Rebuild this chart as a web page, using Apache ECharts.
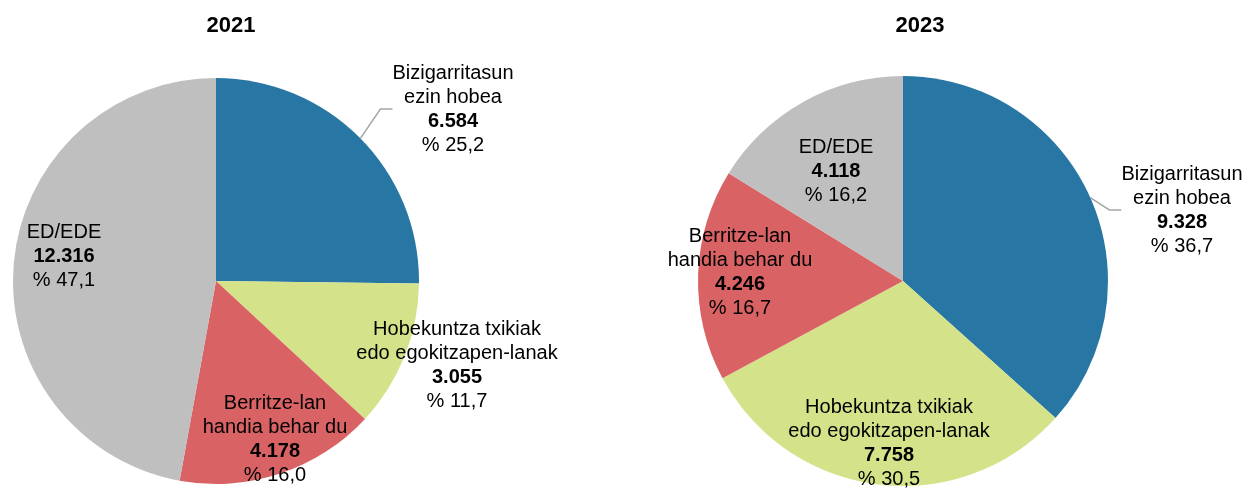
<!DOCTYPE html>
<html lang="eu">
<head>
<meta charset="UTF-8">
<title>Etxebizitzen egoera 2021 / 2023</title>
<script src="https://cdn.jsdelivr.net/npm/echarts@6/dist/echarts.min.js"></script>
<style>
  html, body { margin: 0; padding: 0; background: #fff; }
  #main { width: 1257px; height: 489px; }
</style>
</head>
<body>
<div id="main"></div>
<script type="text/javascript">
    // kategoriak (erlojuaren noranzkoan, goitik hasita)
    const categories = ['Bizigarritasun\nezin hobea', 'Hobekuntza txikiak\nedo egokitzapen-lanak', 'Berritze-lan\nhandia behar du', 'ED/EDE']
    const years = ['2021', '2023']
    const values2021 = [6584, 3055, 4178, 12316]
    const values2023 = [9328, 7758, 4246, 4118]
    const colors = ['#2876a4', '#d4e38a', '#d96264', '#bfbfbf']

    // etiketen kokapena (pixeletan), serie bakoitzeko
    const labelPos = [
        [[453, 109], [457, 365], [275, 439], [64, 256]],
        [[1182, 210], [889, 443], [740, 272], [836, 171]]
    ]

    const fmtNum = (v) => v.toLocaleString('de-DE')
    const fmtPct = (p) => p.toFixed(1).replace('.', ',')

    function makeSeries(vals, center, radius, si) {
        const total = vals.reduce((s, v) => s + v, 0)
        return {
            type: 'pie',
            center: center,
            radius: radius,
            startAngle: 90,
            clockwise: true,
            silent: true,
            itemStyle: { borderWidth: 0 },
            label: {
                show: true,
                position: 'inside',
                align: 'center',
                color: '#000',
                formatter: (p) => `{n|${p.name}}\n{v|${fmtNum(p.value)}}\n{n|% ${fmtPct(p.value / total * 100)}}`,
                rich: {
                    n: { fontFamily: 'Liberation Sans', fontSize: 20, lineHeight: 24, color: '#000', align: 'center' },
                    v: { fontFamily: 'Liberation Sans', fontSize: 20, lineHeight: 24, fontWeight: 'bold', color: '#000', align: 'center' }
                }
            },
            labelLine: { show: false },
            labelLayout: (params) => {
                const pos = labelPos[si][params.dataIndex]
                return { x: pos[0], y: pos[1], align: 'center', verticalAlign: 'middle' }
            },
            data: vals.map((v, i) => {
                const item = { value: v, name: categories[i], itemStyle: { color: colors[i] } }
                if (i === 0) {
                    item.label = { position: 'outside' }
                    item.labelLine = { show: true, length: 20, length2: 12, lineStyle: { color: '#a6a6a6', width: 1.5 } }
                }
                return item
            })
        }
    }

    var myChart = echarts.init(document.getElementById('main'))

    var option = {
        animation: false,
        title: [
            { text: years[0], left: 226, top: 10, textAlign: 'center', textStyle: { fontFamily: 'Liberation Sans', fontSize: 22, fontWeight: 'bold', color: '#000' } },
            { text: years[1], left: 915, top: 10, textAlign: 'center', textStyle: { fontFamily: 'Liberation Sans', fontSize: 22, fontWeight: 'bold', color: '#000' } }
        ],
        series: [
            makeSeries(values2021, [216, 281], 203, 0),
            makeSeries(values2023, [903, 281], 205, 1)
        ]
    }

    myChart.setOption(option)
</script>
</body>
</html>
